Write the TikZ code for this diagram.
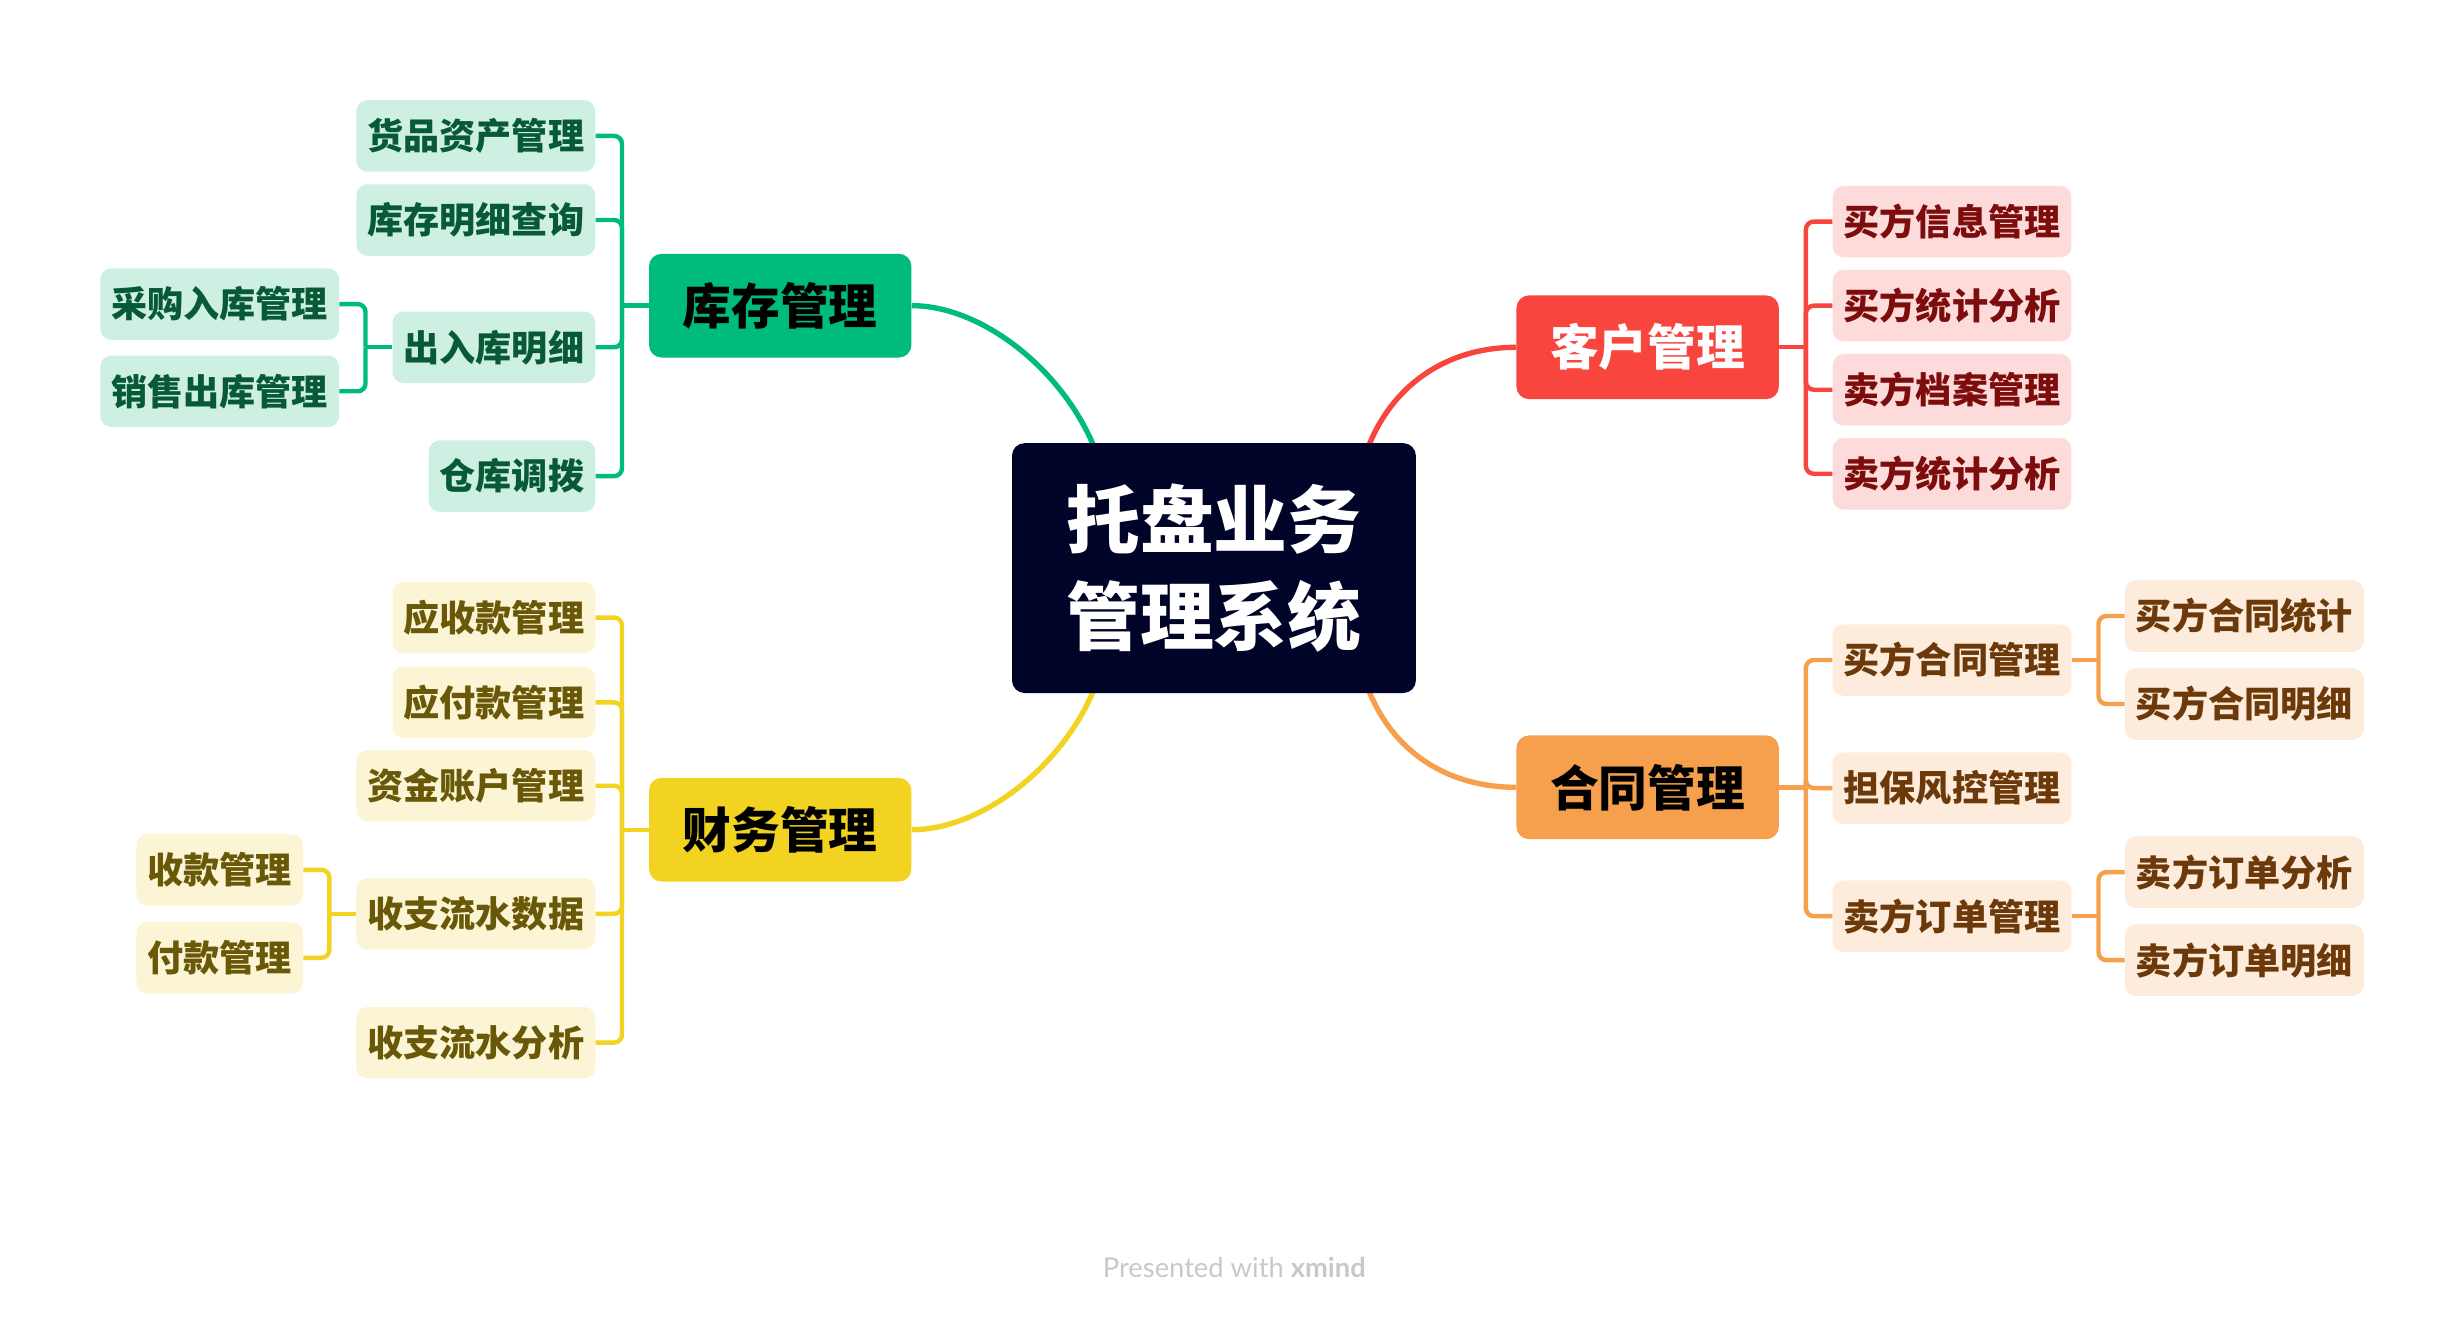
\documentclass[tikz,border=0pt]{standalone}
\usepackage{fontspec}
\newfontfamily\cjk{Noto Sans CJK SC}[BoldFont={Noto Sans CJK SC Black}]
\newfontfamily\footfont{Lato}
\usetikzlibrary{backgrounds}

\definecolor{rootfill}{RGB}{0,4,40}
\definecolor{kcmain}{RGB}{0,188,122}
\definecolor{kclight}{RGB}{205,240,227}
\definecolor{kctext}{RGB}{8,90,55}
\definecolor{cwmain}{RGB}{242,211,34}
\definecolor{cwlight}{RGB}{252,245,213}
\definecolor{cwtext}{RGB}{105,88,8}
\definecolor{khmain}{RGB}{248,69,61}
\definecolor{khlight}{RGB}{253,219,218}
\definecolor{khtext}{RGB}{125,12,12}
\definecolor{htmain}{RGB}{246,160,77}
\definecolor{htlight}{RGB}{253,235,219}
\definecolor{httext}{RGB}{108,58,10}
\definecolor{footgray}{RGB}{200,200,200}

\begin{document}
\begin{tikzpicture}[x=1pt,y=-1pt,
    root/.style={fill=rootfill,text=white,rounded corners=8pt,minimum width=257pt,minimum height=159pt,inner sep=0pt,align=center,font=\cjk\bfseries\fontsize{47}{62}\selectfont},
    topic/.style={rounded corners=8pt,minimum height=66pt,inner xsep=21.5pt,inner ysep=0pt,font=\cjk\bfseries\fontsize{31}{31}\selectfont},
    subtopic/.style={rounded corners=7pt,minimum height=45.5pt,inner xsep=7pt,inner ysep=0pt,font=\cjk\bfseries\fontsize{23}{23}\selectfont},
    kcsub/.style={subtopic,fill=kclight,text=kctext,anchor=east},
    cwsub/.style={subtopic,fill=cwlight,text=cwtext,anchor=east},
    khsub/.style={subtopic,fill=khlight,text=khtext,anchor=west},
    htsub/.style={subtopic,fill=htlight,text=httext,anchor=west},
    branchline/.style={line width=3.4pt},
    forkline/.style={line width=2.8pt,rounded corners=5pt},
  ]
	\useasboundingbox (0,0) rectangle (1568,838.7);

	\node[root] (root) at (772.5,361.5) {托盘业务\\管理系统};

	\node[topic,fill=kcmain,text=black] (kc) at (496.5,194.5) {库存管理};
	\node[topic,fill=cwmain,text=black] (cw) at (496.5,528) {财务管理};
	\node[topic,fill=khmain,text=white] (kh) at (1048.5,221) {客户管理};
	\node[topic,fill=htmain,text=black] (ht) at (1048.5,501) {合同管理};

	% 库存管理
	\node[kcsub] (kc1) at (379,86.5) {货品资产管理};
	\node[kcsub] (kc2) at (379,140) {库存明细查询};
	\node[kcsub] (kc3) at (379,221) {出入库明细};
	\node[kcsub] (kc4) at (379,303) {仓库调拨};
	\node[kcsub] (kc31) at (216,193.5) {采购入库管理};
	\node[kcsub] (kc32) at (216,249) {销售出库管理};

	% 财务管理
	\node[cwsub] (cw1) at (379,393) {应收款管理};
	\node[cwsub] (cw2) at (379,447) {应付款管理};
	\node[cwsub] (cw3) at (379,500) {资金账户管理};
	\node[cwsub] (cw4) at (379,581.5) {收支流水数据};
	\node[cwsub] (cw5) at (379,663.5) {收支流水分析};
	\node[cwsub] (cw41) at (193,553.5) {收款管理};
	\node[cwsub] (cw42) at (193,609.5) {付款管理};

	% 客户管理
	\node[khsub] (kh1) at (1166,141) {买方信息管理};
	\node[khsub] (kh2) at (1166,194.5) {买方统计分析};
	\node[khsub] (kh3) at (1166,248) {卖方档案管理};
	\node[khsub] (kh4) at (1166,301.5) {卖方统计分析};

	% 合同管理
	\node[htsub] (ht1) at (1166,420) {买方合同管理};
	\node[htsub] (ht2) at (1166,501.5) {担保风控管理};
	\node[htsub] (ht3) at (1166,583) {卖方订单管理};
	\node[htsub] (ht11) at (1352,392) {买方合同统计};
	\node[htsub] (ht12) at (1352,448) {买方合同明细};
	\node[htsub] (ht31) at (1352,555) {卖方订单分析};
	\node[htsub] (ht32) at (1352,611) {卖方订单明细};

	\begin{scope}[on background layer]
		\draw[branchline,kcmain] ([xshift=53pt,yshift=-4pt]root.north west) .. controls +(-20,-50) and +(45,0) .. (kc.east);
		\draw[branchline,cwmain] ([xshift=53pt,yshift=4pt]root.south west) .. controls +(-20,50) and +(45,0) .. (cw.east);
		\draw[branchline,khmain] ([xshift=-31pt,yshift=-4pt]root.north east) .. controls +(15,-40) and +(-45,0) .. (kh.west);
		\draw[branchline,htmain] ([xshift=-31pt,yshift=4pt]root.south east) .. controls +(15,40) and +(-45,0) .. (ht.west);
	\end{scope}

	\draw[forkline,kcmain] (kc.west) -- ++(-17,0) coordinate (kcb);
	\foreach \c in {kc1,kc2,kc3,kc4} \draw[forkline,kcmain] (kcb) |- (\c.east);
	\draw[forkline,kcmain] (kc3.west) -- ++(-17,0) coordinate (kc3b);
	\foreach \c in {kc31,kc32} \draw[forkline,kcmain] (kc3b) |- (\c.east);

	\draw[forkline,cwmain] (cw.west) -- ++(-17,0) coordinate (cwb);
	\foreach \c in {cw1,cw2,cw3,cw4,cw5} \draw[forkline,cwmain] (cwb) |- (\c.east);
	\draw[forkline,cwmain] (cw4.west) -- ++(-17,0) coordinate (cw4b);
	\foreach \c in {cw41,cw42} \draw[forkline,cwmain] (cw4b) |- (\c.east);

	\draw[forkline,khmain] (kh.east) -- ++(17,0) coordinate (khb);
	\foreach \c in {kh1,kh2,kh3,kh4} \draw[forkline,khmain] (khb) |- (\c.west);

	\draw[forkline,htmain] (ht.east) -- ++(17,0) coordinate (htb);
	\foreach \c in {ht1,ht2,ht3} \draw[forkline,htmain] (htb) |- (\c.west);
	\draw[forkline,htmain] (ht1.east) -- ++(17,0) coordinate (ht1b);
	\foreach \c in {ht11,ht12} \draw[forkline,htmain] (ht1b) |- (\c.west);
	\draw[forkline,htmain] (ht3.east) -- ++(17,0) coordinate (ht3b);
	\foreach \c in {ht31,ht32} \draw[forkline,htmain] (ht3b) |- (\c.west);

	\node[anchor=base,text=footgray,font=\footfont\fontsize{17.4}{17.4}\selectfont] (foot) at (785.5,813) {Presented with \textbf{xmind}};
\end{tikzpicture}
\end{document}
